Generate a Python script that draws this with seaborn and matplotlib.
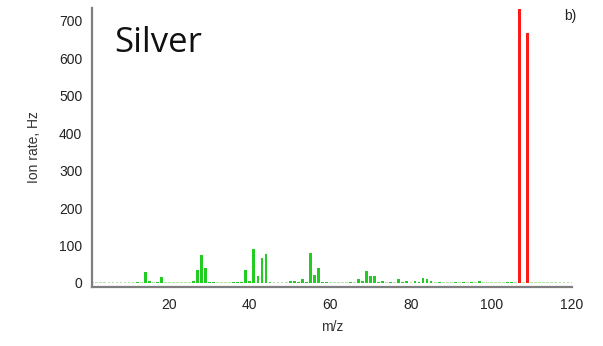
import numpy as np
import pandas as pd
import matplotlib
matplotlib.use("Agg")
import matplotlib.pyplot as plt
import seaborn as sns

# Fragment peaks (m/z, ion rate in Hz)
fragment_mz = [12, 14, 15, 17, 18, 26, 27, 28, 29, 30, 31, 36, 37, 38, 39, 40,
               41, 42, 43, 44, 45, 50, 51, 52, 53, 54, 55, 56, 57, 58, 59, 65,
               67, 68, 69, 70, 71, 72, 73, 75, 77, 78, 79, 81, 82, 83, 84, 85,
               87, 91, 93, 95, 97, 104, 105]
fragment_rate = [3, 29, 6, 3, 16, 5, 35, 74, 39, 3, 2, 2, 2, 2, 35, 6,
                 92, 20, 67, 78, 3, 4, 5, 2, 10, 3, 79, 22, 40, 2, 2, 2,
                 10, 5, 33, 20, 20, 2, 6, 2, 10, 3, 4, 4, 3, 13, 12, 6,
                 3, 3, 2, 3, 6, 2, 2]

# Silver isotopes
silver_mz = [107, 109]
silver_rate = [730, 668]

# Background level on every other nominal mass
background_level = 2.5
mz_range = list(range(1, 121))

rows = []
for m in mz_range:
    if m in fragment_mz:
        rows.append((m, fragment_rate[fragment_mz.index(m)], "fragment"))
    elif m in silver_mz:
        rows.append((m, silver_rate[silver_mz.index(m)], "silver"))
    else:
        rows.append((m, background_level, "background"))
df = pd.DataFrame(rows, columns=["mz", "rate", "group"])

sns.set_style("white")
plt.rcParams["font.family"] = ["Liberation Sans", "DejaVu Sans"]

fig = plt.figure(figsize=(6.03, 3.46), dpi=100)
ax = fig.add_axes([0.1526, 0.1705, 0.796, 0.8075])

palette = {"fragment": "#22cc22", "silver": "#ff1a1a", "background": "#b5e4a8"}
sns.barplot(data=df, x="mz", y="rate", hue="group", palette=palette,
            native_scale=True, dodge=False, width=0.7, legend=False,
            saturation=1, ax=ax, errorbar=None, linewidth=0)

ax.set_xlim(0.8, 120)
ax.set_ylim(-10.7, 735)
ax.set_xticks([20, 40, 60, 80, 100, 120])
ax.set_yticks([0, 100, 200, 300, 400, 500, 600, 700])
ax.set_xlabel("m/z", fontsize=10, color="#333333", labelpad=6)
ax.set_ylabel("Ion rate, Hz", fontsize=10, color="#333333", labelpad=13)

spine_color = "#7f7f7f"
for side in ["top", "right"]:
    ax.spines[side].set_visible(False)
for side in ["left", "bottom"]:
    ax.spines[side].set_color(spine_color)
    ax.spines[side].set_linewidth(1.6)
ax.tick_params(axis="both", direction="out", length=5, width=1.4,
               color=spine_color, labelsize=10, labelcolor="#222222")
ax.tick_params(axis="y", pad=2)
ax.tick_params(axis="x", pad=3)

fig.text(0.19, 0.875, "Silver", fontsize=25, family=["Open Sans", "DejaVu Sans"],
         color="#111111", va="center", ha="left")
fig.text(0.935, 0.955, "b)", fontsize=10, color="#222222", va="center", ha="left")

fig.savefig("out.png", dpi=100)
